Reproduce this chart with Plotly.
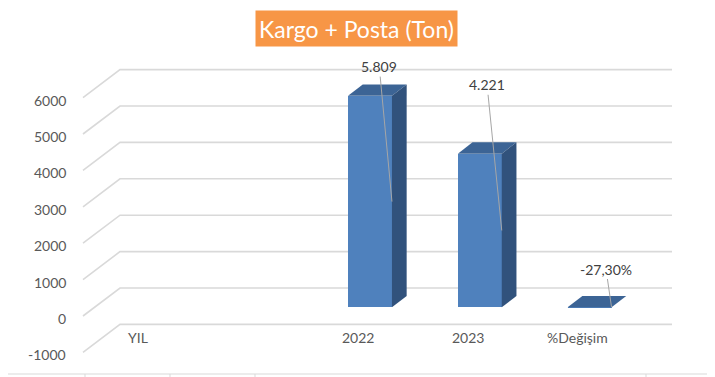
import plotly.graph_objects as go

# ---- data ----
categories = ["YIL", "", "2022", "2023", "%Değişim"]
values = [None, None, 5809, 4221, -0.273]
y_ticks = [-1000, 0, 1000, 2000, 3000, 4000, 5000, 6000]
title_text = "Kargo + Posta (Ton)"

# ---- styling / geometry (window pixel coords) ----
WIN_W, WIN_H = 715, 377
OFF = 8                                  # default page body margin
W, H = WIN_W - OFF, WIN_H - OFF
PX0, PXC = 150.4, 109.8          # pixel of category 0 front centre, px per category
PY0, PYV = 307.3, 0.0364         # pixel of value 0 on bar front plane, px per unit
BAR_W = 0.4
FRONT, TOP, SIDE = "#4f81bd", "#3c6495", "#31527c"
GRID = "#d9d9d9"
TXT = "#595959"
FONT = "Lato"

def cx(px):
    return (px - PX0) / PXC

def vy(dpx):
    return dpx / PYV

def pxp(px):
    return (px - OFF) / W

def pyp(py):
    return 1 - (py - OFF) / H

xr = [cx(OFF), cx(WIN_W)]
yr = [(PY0 - WIN_H) / PYV, (PY0 - OFF) / PYV]

# bar depth
BD_X, BD_Y = cx(PX0 + 14.7), vy(11.4)
# floor front/back relative to bar plane
F_DX, F_DY = cx(83), -vy(8.7)
B_DX, B_DY = cx(120), vy(19.3)
X_END = cx(672)

fig = go.Figure()

# front faces
idx = [i for i, v in enumerate(values) if v is not None]
fig.add_trace(go.Bar(
    x=idx, y=[values[i] for i in idx], width=BAR_W,
    marker=dict(color=FRONT, line=dict(width=0)), hoverinfo="skip", showlegend=False))

# top and side faces
for i in idx:
    v = values[i]
    t = max(v, 0)
    l, r = i - BAR_W / 2, i + BAR_W / 2
    fig.add_trace(go.Scatter(
        x=[l, r, r + BD_X, l + BD_X, l], y=[t, t, t + BD_Y, t + BD_Y, t],
        mode="lines", fill="toself", fillcolor=TOP, line=dict(width=0, color=TOP),
        hoverinfo="skip", showlegend=False))
    if v > 0:
        fig.add_trace(go.Scatter(
            x=[r, r, r + BD_X, r + BD_X, r], y=[0, t, t + BD_Y, BD_Y, 0],
            mode="lines", fill="toself", fillcolor=SIDE, line=dict(width=0, color=SIDE),
            hoverinfo="skip", showlegend=False))

shapes = []
# gridlines (left wall diagonal + back wall)
for v in y_ticks:
    shapes.append(dict(type="path", xref="x", yref="y", layer="below",
                       path=f"M {F_DX},{v + F_DY} L {B_DX},{v + B_DY} L {X_END},{v + B_DY}",
                       line=dict(color=GRID, width=1.6)))

# chart border and sheet ticks
shapes.append(dict(type="rect", xref="paper", yref="paper", x0=pxp(1.5), x1=pxp(711),
                   y0=pyp(374), y1=pyp(0.5), line=dict(color=GRID, width=1.2), layer="below"))
for yy in range(25, 376, 25):
    shapes.append(dict(type="line", xref="paper", yref="paper", x0=pxp(711), x1=1,
                       y0=pyp(yy), y1=pyp(yy), line=dict(color=GRID, width=1)))
for xx in [85, 170, 255, 646]:
    shapes.append(dict(type="line", xref="paper", yref="paper", x0=pxp(xx), x1=pxp(xx),
                       y0=0, y1=pyp(374), line=dict(color=GRID, width=1)))

annotations = []
# y tick labels
for v in y_ticks:
    annotations.append(dict(x=cx(68), y=v + F_DY - vy(2.5), xref="x", yref="y",
                            text=str(v), showarrow=False, xanchor="right", yanchor="middle",
                            font=dict(family=FONT, size=14, color=TXT)))
# category labels
for i, c in enumerate(categories):
    if c:
        annotations.append(dict(x=i - 12 / PXC, y=-vy(337 - PY0),
                                xref="x", yref="y", text=c, showarrow=False,
                                xanchor="center", yanchor="middle",
                                font=dict(family=FONT, size=14, color=TXT)))

# data labels with leader lines
offsets = {2: (-12.7, -135), 3: (-14.7, -145.7), 4: (-5.6, -38.3)}
def fmt(i, v):
    if categories[i].startswith("%"):
        return f"{v * 100:.2f}%".replace(".", ",")
    return f"{v:,.0f}".replace(",", ".")
for i in idx:
    v = values[i]
    ax, ay = offsets[i]
    annotations.append(dict(x=i + BAR_W / 2, y=max(v, 0) / 2, xref="x", yref="y",
                            text=fmt(i, v), showarrow=True, arrowhead=0, arrowwidth=1,
                            arrowcolor="#a6a6a6", ax=ax, ay=ay, standoff=0,
                            font=dict(family=FONT, size=14, color="#404040")))

# title
annotations.append(dict(x=pxp(356.7), y=pyp(28.3), xref="paper", yref="paper",
                        text=title_text, showarrow=False, xanchor="center", yanchor="middle",
                        bgcolor="#f79646", width=201, height=35, borderpad=0,
                        font=dict(family=FONT, size=23, color="white")))

fig.update_layout(
    width=W, height=H, autosize=False,
    margin=dict(l=0, r=0, t=0, b=0),
    paper_bgcolor="white", plot_bgcolor="rgba(0,0,0,0)",
    xaxis=dict(range=xr, visible=False, fixedrange=True),
    yaxis=dict(range=yr, visible=False, fixedrange=True),
    shapes=shapes, annotations=annotations, showlegend=False, bargap=0,
)

fig.write_html("out.html")
